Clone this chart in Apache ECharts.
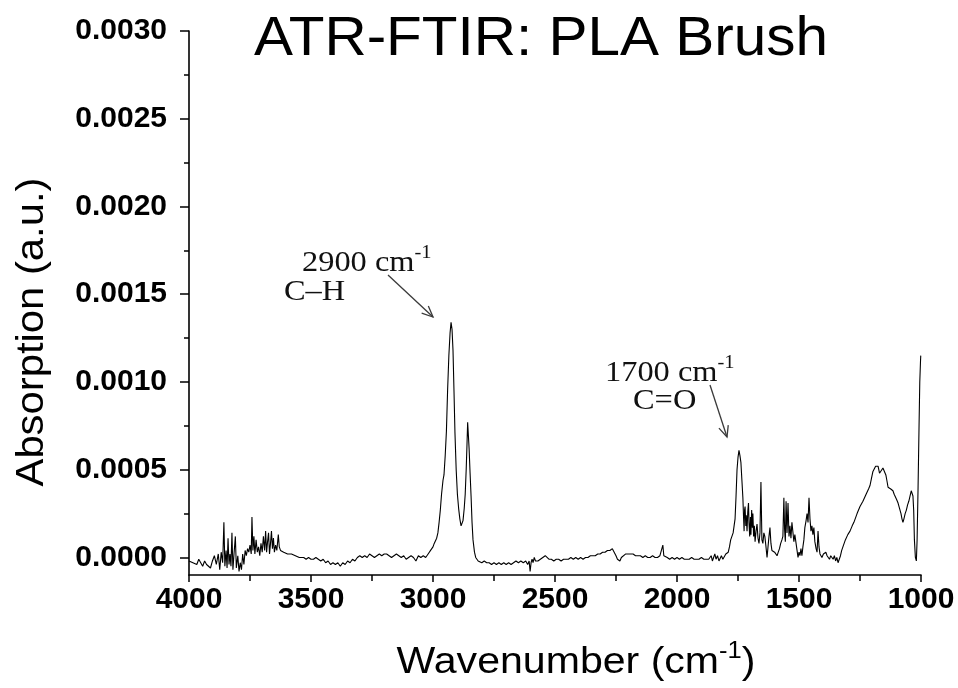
<!DOCTYPE html>
<html>
<head>
<meta charset="utf-8">
<title>ATR-FTIR: PLA Brush</title>
<script src="https://cdn.jsdelivr.net/npm/echarts@6/dist/echarts.min.js"></script>
<style>
  html, body { margin: 0; padding: 0; background: #fff; }
  #chart { width: 958px; height: 688px; }
</style>
</head>
<body>
<div id="chart"></div>
<script>
// ATR-FTIR spectrum of the PLA brush: wavenumber (cm-1) and absorption (a.u.)
const wavenumber = [
  4000, 3992, 3984, 3976, 3968, 3960, 3952, 3944, 3936, 3928, 3920, 3912, 3904, 3896, 3888, 3880,
  3874, 3868, 3862, 3857, 3853, 3848, 3844, 3840, 3836, 3832, 3828, 3824, 3820, 3815, 3810, 3806,
  3800, 3795, 3790, 3785, 3780, 3775, 3770, 3765, 3760, 3755, 3750, 3745, 3742, 3738, 3734, 3730,
  3725, 3720, 3715, 3710, 3705, 3700, 3695, 3690, 3686, 3682, 3678, 3674, 3670, 3666, 3662, 3658,
  3654, 3650, 3645, 3640, 3634, 3630, 3625, 3620, 3612, 3604, 3596, 3588, 3580, 3572, 3564, 3556,
  3548, 3540, 3530, 3520, 3510, 3500, 3490, 3480, 3470, 3460, 3450, 3440, 3430, 3420, 3410, 3400,
  3390, 3380, 3370, 3360, 3350, 3340, 3330, 3320, 3310, 3300, 3290, 3280, 3270, 3260, 3250, 3240,
  3230, 3220, 3210, 3200, 3190, 3180, 3170, 3160, 3150, 3140, 3130, 3120, 3110, 3100, 3090, 3080,
  3070, 3060, 3050, 3040, 3030, 3020, 3010, 3000, 2995, 2990, 2985, 2980, 2975, 2970, 2965, 2959,
  2955, 2950, 2945, 2940, 2935, 2930, 2926, 2922, 2918, 2914, 2910, 2905, 2900, 2895, 2890, 2885,
  2881, 2877, 2872, 2868, 2864, 2861, 2858, 2855, 2852, 2848, 2844, 2840, 2836, 2830, 2825, 2820,
  2815, 2810, 2800, 2790, 2780, 2770, 2760, 2750, 2740, 2730, 2720, 2710, 2700, 2690, 2680, 2670,
  2660, 2650, 2640, 2630, 2620, 2612, 2606, 2602, 2598, 2594, 2590, 2585, 2580, 2575, 2570, 2560,
  2550, 2540, 2533, 2525, 2515, 2505, 2495, 2485, 2475, 2465, 2455, 2445, 2435, 2425, 2415, 2405,
  2395, 2385, 2375, 2365, 2355, 2345, 2335, 2325, 2315, 2305, 2295, 2285, 2275, 2265, 2258, 2250,
  2244, 2238, 2234, 2228, 2220, 2210, 2200, 2190, 2180, 2170, 2160, 2150, 2140, 2130, 2120, 2110,
  2100, 2090, 2080, 2070, 2062, 2058, 2054, 2048, 2040, 2030, 2020, 2010, 2000, 1990, 1980, 1970,
  1960, 1950, 1940, 1930, 1920, 1910, 1900, 1890, 1880, 1870, 1860, 1855, 1850, 1845, 1840, 1834,
  1828, 1824, 1818, 1812, 1806, 1800, 1795, 1790, 1785, 1780, 1775, 1770, 1766, 1762, 1758, 1754,
  1750, 1746, 1742, 1738, 1734, 1730, 1727, 1725, 1723, 1721, 1718, 1716, 1713, 1710, 1707, 1705,
  1702, 1699, 1697, 1694, 1691, 1689, 1686, 1683, 1680, 1676, 1672, 1668, 1664, 1660, 1656, 1652,
  1648, 1644, 1640, 1636, 1631, 1627, 1623, 1619, 1615, 1611, 1605, 1600, 1595, 1590, 1585, 1580,
  1575, 1570, 1566, 1562, 1559, 1556, 1553, 1549, 1545, 1541, 1537, 1533, 1529, 1525, 1521, 1517,
  1512, 1508, 1504, 1500, 1496, 1492, 1488, 1484, 1480, 1476, 1471, 1467, 1463, 1459, 1455, 1451,
  1447, 1443, 1439, 1435, 1430, 1426, 1422, 1418, 1414, 1410, 1406, 1400, 1395, 1390, 1385, 1380,
  1375, 1370, 1365, 1360, 1355, 1350, 1345, 1340, 1335, 1330, 1325, 1320, 1310, 1300, 1291, 1282,
  1275, 1262, 1250, 1238, 1225, 1215, 1209, 1203, 1197, 1192, 1186, 1180, 1176, 1170, 1166, 1162,
  1156, 1152, 1148, 1144, 1140, 1135, 1130, 1124, 1120, 1115, 1110, 1105, 1100, 1094, 1088, 1082,
  1078, 1074, 1070, 1065, 1060, 1055, 1050, 1045, 1040, 1037, 1033, 1030, 1027, 1023, 1019, 1016,
  1012, 1008, 1005, 1002, 1001
];

const absorbance = [
  -0.00002, -0.00001, -0.00003, -0.00002, -0.00004, -0.00001, -0.00003, -0.00005, -0.00002, -0.00004, -0.00003, -0.00006, -0.00002, 0.00001, -0.00004, 0.00002,
  -0.00007, 0.00003, -0.00003, 0.00020, -0.00005, 0.00004, -0.00006, 0.00011, -0.00004, 0.00002, -0.00005, 0.00014, -0.00007, 0.00003, 0.00012, -0.00006,
  0.00001, -0.00008, -0.00003, -0.00007, 0.00002, -0.00004, 0.00004, 0.00001, 0.00005, 0.00003, 0.00007, 0.00002, 0.00023, 0.00004, 0.00012, 0.00002,
  0.00010, 0.00003, 0.00006, 0.00001, 0.00008, 0.00003, 0.00012, 0.00004, 0.00015, 0.00003, 0.00009, 0.00014, 0.00002, 0.00008, 0.00015, 0.00005,
  0.00011, 0.00003, 0.00007, 0.00004, 0.00013, 0.00006, 0.00004, 0.00005, 0.00003, 0.00004, 0.00002, 0.00003, 0.00002, 0.00003, 0.00001, 0.00002,
  0.00000, 0.00001, 0.00000, -0.00001, 0.00000, -0.00001, -0.00001, 0.00000, -0.00001, -0.00002, -0.00001, -0.00003, -0.00002, -0.00004, -0.00003, -0.00004,
  -0.00003, -0.00005, -0.00003, -0.00004, -0.00002, -0.00003, -0.00001, -0.00002, 0.00000, 0.00001, 0.00000, 0.00001, 0.00000, 0.00002, 0.00001, 0.00000,
  0.00001, 0.00002, 0.00001, 0.00002, 0.00002, 0.00001, 0.00000, 0.00001, 0.00002, 0.00001, 0.00000, 0.00001, -0.00001, 0.00000, 0.00001, 0.00000,
  -0.00002, 0.00001, 0.00000, 0.00001, 0.00000, 0.00002, 0.00004, 0.00006, 0.00008, 0.00007, 0.00011, 0.00014, 0.00020, 0.00027, 0.00036, 0.00044,
  0.00047, 0.00058, 0.00072, 0.00096, 0.00115, 0.00128, 0.00134, 0.00130, 0.00118, 0.00095, 0.00071, 0.00050, 0.00036, 0.00028, 0.00022, 0.00018,
  0.00017, 0.00021, 0.00028, 0.00036, 0.00050, 0.00063, 0.00077, 0.00076, 0.00062, 0.00048, 0.00035, 0.00020, 0.00010, 0.00003, 0.00000, -0.00001,
  -0.00002, -0.00002, -0.00003, -0.00002, -0.00003, -0.00003, -0.00004, -0.00003, -0.00004, -0.00003, -0.00004, -0.00003, -0.00004, -0.00003, -0.00004, -0.00003,
  -0.00002, -0.00003, -0.00002, -0.00003, -0.00002, -0.00004, -0.00002, -0.00008, -0.00003, -0.00001, -0.00003, 0.00000, -0.00002, -0.00001, -0.00002, -0.00001,
  0.00000, 0.00001, 0.00000, -0.00001, -0.00001, -0.00002, -0.00001, -0.00001, -0.00002, -0.00001, -0.00001, -0.00001, 0.00000, -0.00001, 0.00000, -0.00001,
  0.00000, -0.00001, 0.00000, 0.00000, 0.00001, 0.00001, 0.00001, 0.00002, 0.00002, 0.00003, 0.00003, 0.00004, 0.00004, 0.00005, 0.00004, 0.00001,
  -0.00001, -0.00002, -0.00002, 0.00000, 0.00001, 0.00002, 0.00002, 0.00002, 0.00002, 0.00001, 0.00001, 0.00001, 0.00000, 0.00001, 0.00000, 0.00000,
  0.00001, 0.00000, 0.00000, 0.00001, 0.00002, 0.00007, 0.00001, 0.00000, 0.00000, -0.00001, 0.00000, -0.00001, 0.00000, -0.00001, 0.00000, -0.00001,
  -0.00001, -0.00001, 0.00000, -0.00001, -0.00001, -0.00001, 0.00000, -0.00001, -0.00001, -0.00001, 0.00001, -0.00002, 0.00000, 0.00002, -0.00001, 0.00001,
  -0.00002, -0.00003, 0.00001, -0.00001, 0.00000, 0.00002, 0.00002, 0.00003, 0.00006, 0.00010, 0.00011, 0.00014, 0.00018, 0.00022, 0.00035, 0.00050,
  0.00057, 0.00061, 0.00058, 0.00054, 0.00044, 0.00034, 0.00022, 0.00015, 0.00027, 0.00029, 0.00018, 0.00024, 0.00015, 0.00026, 0.00031, 0.00020,
  0.00012, 0.00023, 0.00013, 0.00027, 0.00017, 0.00025, 0.00012, 0.00018, 0.00009, 0.00015, 0.00019, 0.00011, 0.00008, 0.00014, 0.00043, 0.00010,
  0.00008, 0.00014, 0.00012, 0.00007, 0.00000, 0.00006, 0.00012, 0.00017, 0.00008, 0.00004, 0.00005, 0.00003, 0.00002, 0.00001, 0.00003, 0.00005,
  0.00008, 0.00010, 0.00012, 0.00034, 0.00016, 0.00009, 0.00032, 0.00014, 0.00031, 0.00012, 0.00018, 0.00011, 0.00020, 0.00021, 0.00009, 0.00013,
  0.00008, 0.00004, 0.00000, 0.00003, 0.00001, 0.00005, 0.00001, 0.00006, 0.00010, 0.00017, 0.00021, 0.00025, 0.00020, 0.00034, 0.00022, 0.00015,
  0.00018, 0.00013, 0.00017, 0.00009, 0.00005, 0.00003, 0.00015, 0.00006, 0.00002, 0.00001, 0.00000, 0.00002, 0.00001, 0.00003, 0.00001, 0.00002,
  -0.00001, 0.00001, 0.00000, -0.00001, 0.00001, -0.00002, 0.00000, -0.00003, -0.00001, 0.00001, 0.00004, 0.00006, 0.00010, 0.00013, 0.00015, 0.00018,
  0.00020, 0.00025, 0.00029, 0.00032, 0.00036, 0.00039, 0.00041, 0.00045, 0.00049, 0.00050, 0.00052, 0.00051, 0.00052, 0.00048, 0.00047, 0.00049,
  0.00051, 0.00052, 0.00051, 0.00047, 0.00044, 0.00040, 0.00040, 0.00039, 0.00039, 0.00038, 0.00036, 0.00035, 0.00033, 0.00031, 0.00028, 0.00025,
  0.00022, 0.00020, 0.00022, 0.00025, 0.00027, 0.00030, 0.00032, 0.00035, 0.00038, 0.00039, 0.00035, 0.00027, 0.00010, 0.00000, -0.00002, 0.00010,
  0.00040, 0.00075, 0.00100, 0.00112, 0.00115
];

// Axis ticks
const yMajorTicks = [0, 0.0005, 0.0010, 0.0015, 0.0020, 0.0025, 0.0030];
const yMinorTicks = [0.00025, 0.00075, 0.00125, 0.00175, 0.00225, 0.00275];

const chart = echarts.init(document.getElementById('chart'), null, { renderer: 'canvas' });

const spectrum = wavenumber.map((w, i) => [w, absorbance[i]]);

const SANS = 'Arial, "Liberation Sans", Helvetica, sans-serif';
const SERIF = '"Times New Roman", "Liberation Serif", serif';

// open V-shaped arrow head + shaft
function arrow(x1, y1, x2, y2) {
  const ang = Math.atan2(y2 - y1, x2 - x1);
  const len = 12, spread = 0.42;
  const a = [x2 - len * Math.cos(ang - spread), y2 - len * Math.sin(ang - spread)];
  const b = [x2 - len * Math.cos(ang + spread), y2 - len * Math.sin(ang + spread)];
  const style = { stroke: '#3a3a3a', lineWidth: 1.3, fill: null };
  return [
    { type: 'line', shape: { x1, y1, x2, y2 }, style },
    { type: 'polyline', shape: { points: [a, [x2, y2], b] }, style }
  ];
}

// wavenumber label with a raised "-1"
function supText(main, tail, family, size, supSize, color) {
  return {
    text: '{m|' + main + '}{s|-1}' + (tail ? '{m|' + tail + '}' : ''),
    rich: {
      m: { fontFamily: family, fontSize: size, fill: color, lineHeight: size + 4, verticalAlign: 'bottom' },
      s: { fontFamily: family, fontSize: supSize, fill: color, lineHeight: supSize + 2, verticalAlign: 'top' }
    }
  };
}

const option = {
  animation: false,
  backgroundColor: '#fff',
  grid: { left: 189, right: 37, top: 31, bottom: 113, containLabel: false },
  xAxis: {
    type: 'value',
    min: 1000,
    max: 4000,
    interval: 500,
    inverse: true,
    axisLine: { onZero: false, lineStyle: { color: '#000', width: 1.6 } },
    axisTick: { show: true, inside: false, length: 7, lineStyle: { color: '#000', width: 1.5 } },
    minorTick: { show: true, splitNumber: 2, length: 6, lineStyle: { color: '#000', width: 1.5 } },
    splitLine: { show: false },
    axisLabel: {
      color: '#000', fontFamily: SANS, fontSize: 30, fontWeight: 'bold', margin: 10,
      formatter: v => String(v)
    }
  },
  yAxis: [
    {
      type: 'value',
      min: -0.0001,
      max: 0.0030,
      position: 'left',
      axisLine: { show: true, onZero: false, lineStyle: { color: '#000', width: 1.6 } },
      axisTick: { show: true, inside: false, length: 9, customValues: yMajorTicks, lineStyle: { color: '#000', width: 1.5 } },
      splitLine: { show: false },
      axisLabel: {
        customValues: yMajorTicks,
        color: '#000', fontFamily: SANS, fontSize: 30, fontWeight: 'bold', margin: 22,
        formatter: v => v.toFixed(4)
      }
    },
    {
      type: 'value',
      min: -0.0001,
      max: 0.0030,
      position: 'left',
      axisLine: { show: false },
      axisTick: { show: true, inside: false, length: 5, customValues: yMinorTicks, lineStyle: { color: '#000', width: 1.5 } },
      splitLine: { show: false },
      axisLabel: { show: false }
    }
  ],
  series: [{
    type: 'line',
    data: spectrum,
    yAxisIndex: 0,
    showSymbol: false,
    symbol: 'none',
    lineStyle: { color: '#000', width: 1.1 },
    clip: true
  }],
  graphic: [
    {
      type: 'text', x: 541, y: 12, scaleX: 1.044,
      style: { text: 'ATR-FTIR: PLA Brush', font: 'normal 56px ' + SANS, fill: '#000', textAlign: 'center', textVerticalAlign: 'top' }
    },
    {
      type: 'text', x: 33, y: 332, rotation: Math.PI / 2, scaleX: 1.1,
      style: { text: 'Absorption (a.u.)', font: 'normal 38px ' + SANS, fill: '#000', textAlign: 'center', textVerticalAlign: 'middle' }
    },
    {
      type: 'text', x: 576, y: 640, scaleX: 1.11,
      style: Object.assign({ textAlign: 'center', textVerticalAlign: 'top' },
        supText('Wavenumber (cm', ')', SANS, 37, 23, '#000'))
    },
    {
      type: 'text', x: 302, y: 244, scaleX: 1.08,
      style: Object.assign({ textAlign: 'left', textVerticalAlign: 'top' },
        supText('2900 cm', '', SERIF, 30, 19, '#111'))
    },
    {
      type: 'text', x: 284, y: 277, scaleX: 1.08,
      style: { text: 'C\u2013H', font: 'normal 30px ' + SERIF, fill: '#111', textAlign: 'left', textVerticalAlign: 'top' }
    },
    {
      type: 'text', x: 605, y: 354, scaleX: 1.08,
      style: Object.assign({ textAlign: 'left', textVerticalAlign: 'top' },
        supText('1700 cm', '', SERIF, 30, 19, '#111'))
    },
    {
      type: 'text', x: 633, y: 386, scaleX: 1.08,
      style: { text: 'C=O', font: 'normal 30px ' + SERIF, fill: '#111', textAlign: 'left', textVerticalAlign: 'top' }
    },
    ...arrow(388, 275, 433, 317),
    ...arrow(710, 385, 727, 437)
  ]
};

chart.setOption(option);
</script>
</body>
</html>
